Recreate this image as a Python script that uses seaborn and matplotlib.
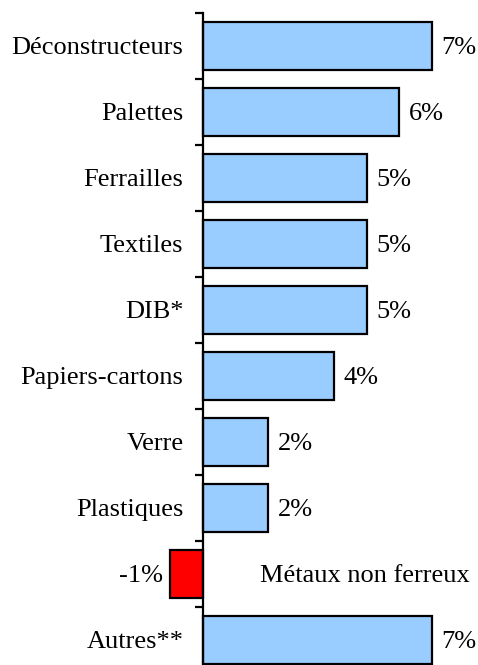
import numpy as np
import pandas as pd
import seaborn as sns
import matplotlib
matplotlib.use("Agg")
import matplotlib.pyplot as plt
from matplotlib.ticker import FixedLocator

categories = ["Déconstructeurs", "Palettes", "Ferrailles", "Textiles", "DIB*",
              "Papiers-cartons", "Verre", "Plastiques", "Métaux non ferreux", "Autres**"]
values = [7, 6, 5, 5, 5, 4, 2, 2, -1, 7]
value_labels = ["7%", "6%", "5%", "5%", "5%", "4%", "2%", "2%", "-1%", "7%"]


def main():
    sns.set_style("white")
    plt.rcParams["font.family"] = ["Liberation Serif", "DejaVu Serif"]
    plt.rcParams["text.color"] = "black"
    plt.rcParams["ytick.color"] = "black"
    plt.rcParams["ytick.labelcolor"] = "black"

    df = pd.DataFrame({"cat": categories, "val": values})
    colors = ["#FF0000" if v < 0 else "#99CCFF" for v in values]

    fig = plt.figure(figsize=(4.78, 6.65), dpi=100)
    # axes: zero line at ~203px, rows of ~66px starting at 13px from top
    ax = fig.add_axes([140 / 478, 1 - 673 / 665, 338 / 478, 660 / 665])
    sns.barplot(data=df, x="val", y="cat", hue="cat", palette=colors, legend=False,
                orient="h", width=0.73, edgecolor="black", linewidth=1.6,
                saturation=1, ax=ax)

    scale = 32.7  # px per unit
    ax.set_xlim(-63 / scale, 275 / scale)
    ax.set_ylim(len(categories) - 0.5, -0.5)

    for s in ["top", "right", "bottom"]:
        ax.spines[s].set_visible(False)
    ax.spines["left"].set_position(("data", 0))
    ax.spines["left"].set_linewidth(1.6)
    ax.spines["left"].set_color("black")

    ax.set_xticks([])
    ax.set_xlabel("")
    ax.set_ylabel("")
    ax.yaxis.set_minor_locator(FixedLocator(np.arange(-0.5, len(categories), 1)))
    ax.tick_params(axis="y", which="minor", left=True, length=5.5, width=1.6,
                   direction="out", color="black")
    ax.tick_params(axis="y", which="major", left=False, length=0, pad=14)
    ax.set_yticks(range(len(categories)))
    ax.set_yticklabels([c if v >= 0 else "" for c, v in zip(categories, values)],
                       fontsize=19, va="center_baseline")

    for i, (v, lab) in enumerate(zip(values, value_labels)):
        if v >= 0:
            ax.annotate(lab, (v, i), xytext=(7, 0), textcoords="offset points",
                        ha="left", va="center_baseline", fontsize=19)
        else:
            ax.annotate(lab, (v, i), xytext=(-5, 0), textcoords="offset points",
                        ha="right", va="center_baseline", fontsize=19)
            ax.text(1.75, i, categories[i], ha="left", va="center_baseline", fontsize=19)

    fig.savefig("out.png", dpi=100)


if __name__ == "__main__":
    main()
